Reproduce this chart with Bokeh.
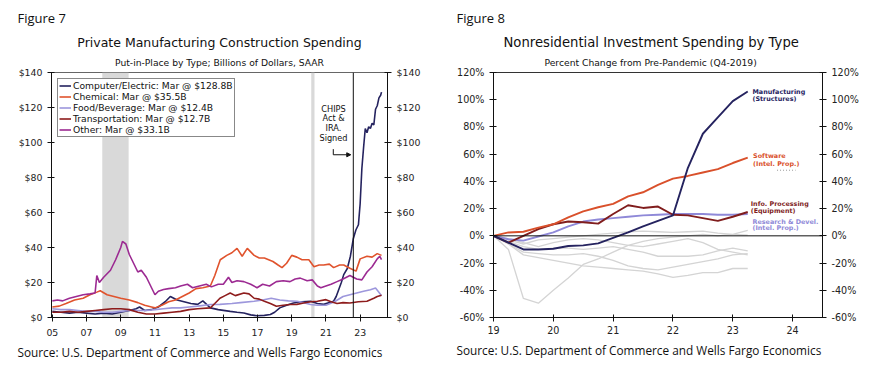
from bokeh.plotting import figure
from bokeh.models import (Range1d, LinearAxis, FixedTicker, BoxAnnotation, Span, Label,
                          Legend, LegendItem, Arrow, NormalHead, Title)
from bokeh.layouts import row
from bokeh.embed import file_html
from bokeh.resources import INLINE

# ---------------- Figure 7 data ----------------
fig7_x_ticks = [2005, 2007, 2009, 2011, 2013, 2015, 2017, 2019, 2021, 2023]
fig7_x_labels = ["05", "07", "09", "11", "13", "15", "17", "19", "21", "23"]
fig7_y_ticks = [0, 20, 40, 60, 80, 100, 120, 140]
fig7_y_labels = ["$0", "$20", "$40", "$60", "$80", "$100", "$120", "$140"]

recessions = [(2007.92, 2009.46), (2020.14, 2020.33)]
chips_date = 2022.6

comp_x = [2005.0, 2005.5, 2006.0, 2006.5, 2007.0, 2007.5, 2008.0, 2008.5, 2009.0, 2009.5, 2009.9, 2010.1,
          2010.4, 2010.8, 2011.2, 2011.6, 2011.9, 2012.3, 2012.7, 2013.1, 2013.5, 2013.8, 2014.24, 2014.7,
          2015.4, 2015.8, 2016.2, 2016.6, 2016.97, 2017.4, 2017.75, 2018.0, 2018.3, 2018.7, 2019.1, 2019.6,
          2020.1, 2020.5, 2020.87, 2021.2, 2021.45, 2021.6, 2021.75, 2021.9, 2022.04, 2022.25, 2022.43,
          2022.6, 2022.75, 2022.9, 2023.0, 2023.1, 2023.2, 2023.3, 2023.4, 2023.5, 2023.6, 2023.7, 2023.8,
          2023.9, 2024.0, 2024.1, 2024.2, 2024.25]
comp_y = [3.5, 3.0, 2.5, 3.0, 2.5, 2.0, 2.5, 2.0, 3.0, 4.0, 5.0, 6.0,
          4.0, 4.5, 6.0, 9.0, 12.0, 10.0, 9.0, 8.0, 7.5, 9.5, 5.5, 4.5,
          3.5, 3.0, 2.6, 1.5, 1.0, 1.2, 1.7, 3.0, 5.5, 7.0, 8.3, 9.0,
          9.3, 8.0, 7.5, 8.5, 9.3, 12.0, 16.0, 20.0, 24.5, 28.0, 35.0,
          45.0, 50.0, 53.0, 65.0, 85.0, 97.0, 108.0, 105.6, 109.0, 108.0, 111.0, 110.0,
          119.0, 121.0, 125.5, 127.0, 128.8]

chem_x = [2005.0, 2005.4, 2005.8, 2006.3, 2006.8, 2007.2, 2007.6, 2007.8, 2008.2, 2008.6, 2009.0, 2009.5,
          2010.0, 2010.4, 2010.8, 2011.0, 2011.4, 2011.8, 2012.2, 2012.6, 2013.0, 2013.4, 2013.8, 2014.24,
          2014.5, 2014.82, 2015.2, 2015.5, 2015.8, 2016.1, 2016.4, 2016.8, 2017.1, 2017.4, 2017.9, 2018.2,
          2018.43, 2018.7, 2019.0, 2019.3, 2019.6, 2020.0, 2020.3, 2020.6, 2020.87, 2021.2, 2021.45, 2021.8,
          2022.04, 2022.43, 2022.76, 2023.0, 2023.4, 2023.7, 2024.0, 2024.25]
chem_y = [6.0, 6.5, 8.0, 10.0, 11.0, 13.0, 14.5, 15.3, 13.0, 12.0, 11.0, 10.0,
          8.5, 7.0, 6.0, 5.5, 7.0, 9.0, 10.0, 12.0, 14.0, 16.5, 17.0, 18.0,
          24.0, 33.0, 35.5, 37.0, 39.5, 35.0, 39.5, 35.5, 34.0, 34.0, 32.0, 30.0,
          28.5, 31.0, 35.5, 34.5, 33.0, 33.0, 29.0, 30.0, 30.0, 30.5, 28.5, 30.0,
          30.0, 28.0, 26.5, 33.5, 35.0, 34.5, 36.5, 35.5]

food_x = [2005.0, 2005.5, 2006.0, 2006.5, 2007.0, 2007.5, 2008.0, 2008.5, 2009.0, 2009.5, 2010.0, 2010.5,
          2011.0, 2011.5, 2012.0, 2012.5, 2013.0, 2013.5, 2014.24, 2014.8, 2015.5, 2016.0, 2016.8, 2017.3,
          2017.8, 2018.3, 2018.8, 2019.3, 2019.7, 2020.1, 2020.5, 2021.0, 2021.5, 2022.0, 2022.4, 2022.8,
          2023.2, 2023.6, 2023.9, 2024.05, 2024.25]
food_y = [5.0, 4.5, 4.5, 4.0, 3.5, 3.5, 3.0, 3.0, 3.5, 4.0, 4.0, 4.0,
          4.5, 5.0, 5.5, 5.5, 6.0, 6.5, 7.4, 7.5, 8.0, 8.5, 9.3, 10.0,
          11.0, 10.0, 9.5, 9.3, 8.5, 7.4, 7.0, 7.0, 9.0, 12.0, 13.0, 14.0,
          15.0, 15.9, 16.8, 15.0, 12.4]

trans_x = [2005.0, 2005.5, 2006.0, 2006.5, 2007.0, 2007.5, 2008.0, 2008.5, 2009.0, 2009.5, 2010.0, 2010.5,
           2011.0, 2011.5, 2012.0, 2012.5, 2013.0, 2013.5, 2014.24, 2014.5, 2014.8, 2015.1, 2015.4, 2015.7,
           2016.2, 2016.5, 2016.8, 2017.1, 2017.4, 2017.75, 2018.1, 2018.5, 2018.9, 2019.3, 2019.7, 2020.1,
           2020.5, 2021.0, 2021.3, 2021.65, 2022.0, 2022.4, 2022.9, 2023.4, 2023.8, 2024.0, 2024.25]
trans_y = [3.0, 3.0, 3.5, 3.0, 3.5, 4.0, 4.5, 5.0, 5.0, 4.5, 3.0, 2.0,
           2.0, 2.5, 3.0, 3.5, 4.5, 5.0, 5.5, 8.0, 11.0, 12.5, 14.0, 12.5,
           14.0, 13.5, 11.0, 10.5, 9.3, 8.0, 6.4, 7.0, 7.4, 7.5, 8.3, 9.0,
           9.3, 10.2, 9.0, 8.0, 8.5, 8.3, 9.0, 9.3, 11.0, 12.0, 12.7]

other_x = [2005.0, 2005.3, 2005.6, 2006.0, 2006.4, 2006.8, 2007.2, 2007.5, 2007.6, 2007.75, 2008.0, 2008.4,
           2008.7, 2009.0, 2009.1, 2009.3, 2009.5, 2009.8, 2010.0, 2010.2, 2010.5, 2010.8, 2011.0, 2011.2,
           2011.5, 2011.8, 2012.2, 2012.5, 2012.9, 2013.2, 2013.6, 2014.0, 2014.3, 2014.7, 2015.0, 2015.3,
           2015.5, 2015.8, 2016.2, 2016.6, 2016.97, 2017.3, 2017.7, 2018.1, 2018.5, 2018.9, 2019.2, 2019.5,
           2019.9, 2020.2, 2020.5, 2020.7, 2021.0, 2021.3, 2021.65, 2022.0, 2022.4, 2022.8, 2023.1, 2023.4,
           2023.7, 2024.0, 2024.15, 2024.25]
other_y = [9.5, 10.0, 9.5, 11.0, 12.0, 13.0, 13.5, 14.0, 24.0, 20.0, 23.0, 27.0,
           33.0, 40.0, 43.5, 42.0, 36.0, 30.0, 26.0, 27.0, 23.0, 17.0, 13.0, 15.0,
           16.0, 16.5, 17.0, 18.0, 19.0, 17.0, 18.0, 19.0, 17.5, 19.0, 19.0, 23.0,
           20.0, 21.0, 20.5, 19.0, 17.0, 19.0, 18.0, 20.5, 21.0, 20.5, 22.0, 22.5,
           21.0, 21.5, 18.0, 17.0, 18.0, 19.0, 20.5, 22.0, 24.0, 22.0, 21.5, 26.0,
           29.0, 33.5, 35.0, 33.1]

fig7_series = [
    ("Computer/Electric: Mar @ $128.8B", comp_x, comp_y, "#25235f"),
    ("Chemical: Mar @ $35.5B", chem_x, chem_y, "#e0532d"),
    ("Food/Beverage: Mar @ $12.4B", food_x, food_y, "#9d97dc"),
    ("Transportation: Mar @ $12.7B", trans_x, trans_y, "#8e1c1c"),
    ("Other: Mar @ $33.1B", other_x, other_y, "#9c2a92"),
]

# ---------------- Figure 8 data ----------------
quarters = [19.0, 19.25, 19.5, 19.75, 20.0, 20.25, 20.5, 20.75, 21.0, 21.25, 21.5, 21.75,
            22.0, 22.25, 22.5, 22.75, 23.0, 23.25]
manufacturing = [0, -5, -10, -10, -9.5, -7.5, -7, -5.5, -1.5, 2.5, 7, 11, 15, 50, 75, 87, 99, 106]
software = [0, 2.5, 3, 6, 8.5, 13.5, 18, 21, 23.5, 29, 32, 37.5, 42, 44, 46.5, 49, 53.5, 57.5]
info_processing = [0, -5, 0, 5, 8.5, 10.5, 10, 9, 16, 22.5, 20.5, 21.5, 15.5, 15, 13, 11, 14, 17.5]
research_devel = [0, -2.5, -3.5, -0.5, 2.5, 7, 10.5, 12, 13, 14, 15, 15.5, 16, 16, 16, 15.5, 15.5, 16]
other_categories = [
    [0, -10, -46, -49.5, -40, -31, -21, -17, -12, -7, -4, -2, -1, 0, 1, 0, 1, 4],
    [0, -3, -6, -3, -2, -1, 0, 1, 2, 3, 3.5, 3, 2.5, 3, 3.5, 2, 1, 0.5],
    [0, -4, -8, -10, -9, -9, -10, -9, -8, -10, -12, -15, -15, -15, -14, -11, -9, -11],
    [0, -6, -12, -13, -14, -14, -13, -15, -18, -22, -24, -25, -23, -21, -19, -17, -14, -13],
    [0, -6, -14, -16, -18, -20, -22, -23, -24, -25, -26, -28, -30.5, -29, -27, -27, -24, -24],
    [0, -2, -5, -8, -5, -3, -2, -3, -5, -7, -8, -6, -4, -2, -5, -10, -12, -14],
]
fig8_x_ticks = [19, 20, 21, 22, 23, 24]
fig8_x_labels = ["19", "20", "21", "22", "23", "24"]
fig8_y_ticks = [-60, -40, -20, 0, 20, 40, 60, 80, 100, 120]
fig8_y_labels = ["-60%", "-40%", "-20%", "0%", "20%", "40%", "60%", "80%", "100%", "120%"]

fig8_series = [
    ("Manufacturing", "(Structures)", manufacturing, "#25235f"),
    ("Software", "(Intel. Prop.)", software, "#d9502b"),
    ("Info. Processing", "(Equipment)", info_processing, "#801d1d"),
    ("Research & Devel.", "(Intel. Prop.)", research_devel, "#8f89d8"),
]

FONT = "DejaVu Sans"
SRC_FONT = "Open Sans"
SOURCE = "Source: U.S. Department of Commerce and Wells Fargo Economics"


def style_axis(ax, ticks, labels, size):
    ax.ticker = FixedTicker(ticks=ticks)
    ax.major_label_overrides = {t: l for t, l in zip(ticks, labels)}
    ax.major_label_text_font = FONT
    ax.major_label_text_font_size = size
    ax.major_label_text_color = "#222222"
    ax.axis_line_color = "#111111"
    ax.major_tick_line_color = "#111111"
    ax.minor_tick_line_color = None
    ax.major_tick_out = 4
    ax.major_tick_in = 3


def add_text(p, text, x, y, size, font=FONT, align="left", color="#111111", style="normal", units="screen"):
    p.add_layout(Label(x=x, y=y, x_units=units, y_units=units, text=text, text_font=font,
                       text_font_size=size, text_align=align, text_baseline="middle",
                       text_color=color, text_font_style=style))


def add_titles(p, fig_name, title, subtitle, left_off, title_align, title_off, sub_off, title_size):
    p.add_layout(Title(text=subtitle, align=title_align, offset=sub_off, text_font=FONT,
                       text_font_size="9.2px", text_font_style="normal", text_color="#111111",
                       standoff=10), "above")
    p.add_layout(Title(text=title, align=title_align, offset=title_off, text_font=FONT,
                       text_font_size=title_size, text_font_style="normal", text_color="#111111",
                       standoff=0), "above")
    p.add_layout(Title(text=fig_name, align="left", offset=left_off, text_font=SRC_FONT,
                       text_font_size="13px", text_font_style="normal", text_color="#111111",
                       standoff=12), "above")
    p.add_layout(Title(text=SOURCE, align="left", offset=left_off, text_font=SRC_FONT,
                       text_font_size="11.8px", text_font_style="normal", text_color="#111111",
                       standoff=6), "below")


# ---------------- Figure 7 ----------------
p1 = figure(width=440, height=372, output_backend="svg", toolbar_location=None,
            x_range=Range1d(2004.95, 2024.6), y_range=Range1d(0, 140),
            min_border_left=51, min_border_right=53, min_border_top=71, min_border_bottom=54)
p1.grid.visible = False
p1.outline_line_color = "#666666"
style_axis(p1.xaxis[0], fig7_x_ticks, fig7_x_labels, "9.4px")
style_axis(p1.yaxis[0], fig7_y_ticks, fig7_y_labels, "9.4px")
p1.xaxis[0].major_label_standoff = 7
r_ax1 = LinearAxis()
style_axis(r_ax1, fig7_y_ticks, fig7_y_labels, "9.4px")
p1.add_layout(r_ax1, "right")

for a, b in recessions:
    p1.add_layout(BoxAnnotation(left=a, right=b, fill_color="#d9d9d9", fill_alpha=1,
                                line_color=None, level="underlay"))
p1.add_layout(Span(location=chips_date, dimension="height", line_color="#111111", line_width=1))

items = []
for name, xs, ys, col in fig7_series:
    r = p1.line(xs, ys, line_color=col, line_width=1.6)
    items.append(LegendItem(label=name, renderers=[r]))
leg = Legend(items=items, location="top_left", margin=6, padding=1, spacing=0,
             glyph_width=12, glyph_height=11, label_height=11, label_standoff=2,
             label_text_font=FONT, label_text_font_size="9.2px", label_text_color="#111111",
             border_line_color="#111111", border_line_width=1, background_fill_alpha=1)
p1.add_layout(leg)

chips_lines = ["CHIPS", "Act &", "IRA.", "Signed"]
for i, t in enumerate(chips_lines):
    add_text(p1, t, 282, 209 - i * 9.7, "8.2px", align="center")
p1.add_layout(Arrow(end=None, x_start=2021.43, y_start=96.2, x_end=2021.43, y_end=93.0,
                    line_color="#111111", line_width=1))
p1.add_layout(Arrow(end=NormalHead(size=4, fill_color="#111111", line_color="#111111"),
                    x_start=2021.43, y_start=93.0, x_end=2022.45, y_end=93.0,
                    line_color="#111111", line_width=1))

add_titles(p1, "Figure 7", "Private Manufacturing Construction Spending",
           "Put-in-Place by Type; Billions of Dollars, SAAR", -34, "center", 0, 0, "12.5px")

# ---------------- Figure 8 ----------------
p2 = figure(width=445, height=372, output_backend="svg", toolbar_location=None,
            x_range=Range1d(19.0, 24.5), y_range=Range1d(-60, 120),
            min_border_left=53, min_border_right=63, min_border_top=72, min_border_bottom=55)
p2.grid.visible = False
p2.outline_line_color = "#333333"
style_axis(p2.xaxis[0], fig8_x_ticks, fig8_x_labels, "9.6px")
style_axis(p2.yaxis[0], fig8_y_ticks, fig8_y_labels, "9.6px")
p2.xaxis[0].major_label_standoff = 4
r_ax2 = LinearAxis()
style_axis(r_ax2, fig8_y_ticks, fig8_y_labels, "9.6px")
p2.add_layout(r_ax2, "right")

for ys in other_categories:
    p2.line(quarters, ys, line_color="#d4d4d4", line_width=1.3)
p2.add_layout(Span(location=0, dimension="width", line_color="#111111", line_width=1))
for _, _, ys, col in reversed(fig8_series):
    p2.line(quarters, ys, line_color=col, line_width=1.9)

label_pos = [(23.33, 106.0, 100.8), (23.34, 58.3, 52.9), (23.3, 23.7, 18.6), (23.33, 10.5, 5.4)]
for (l1, l2, _, col), (lx, y1, y2) in zip(fig8_series, label_pos):
    add_text(p2, l1, lx, y1, "6.4px", color=col, style="bold", units="data")
    add_text(p2, l2, lx, y2, "6.4px", color=col, style="bold", units="data")
p2.line([23.74, 24.05], [48.2, 48.2], line_color="#999999", line_width=1, line_dash="1 2")

add_titles(p2, "Figure 8", "Nonresidential Investment Spending by Type",
           "Percent Change from Pre-Pandemic (Q4-2019)", -37, "left", 10, 51, "13.2px")

layout = row(p1, p2)
open("out.html", "w").write(file_html(layout, INLINE))
